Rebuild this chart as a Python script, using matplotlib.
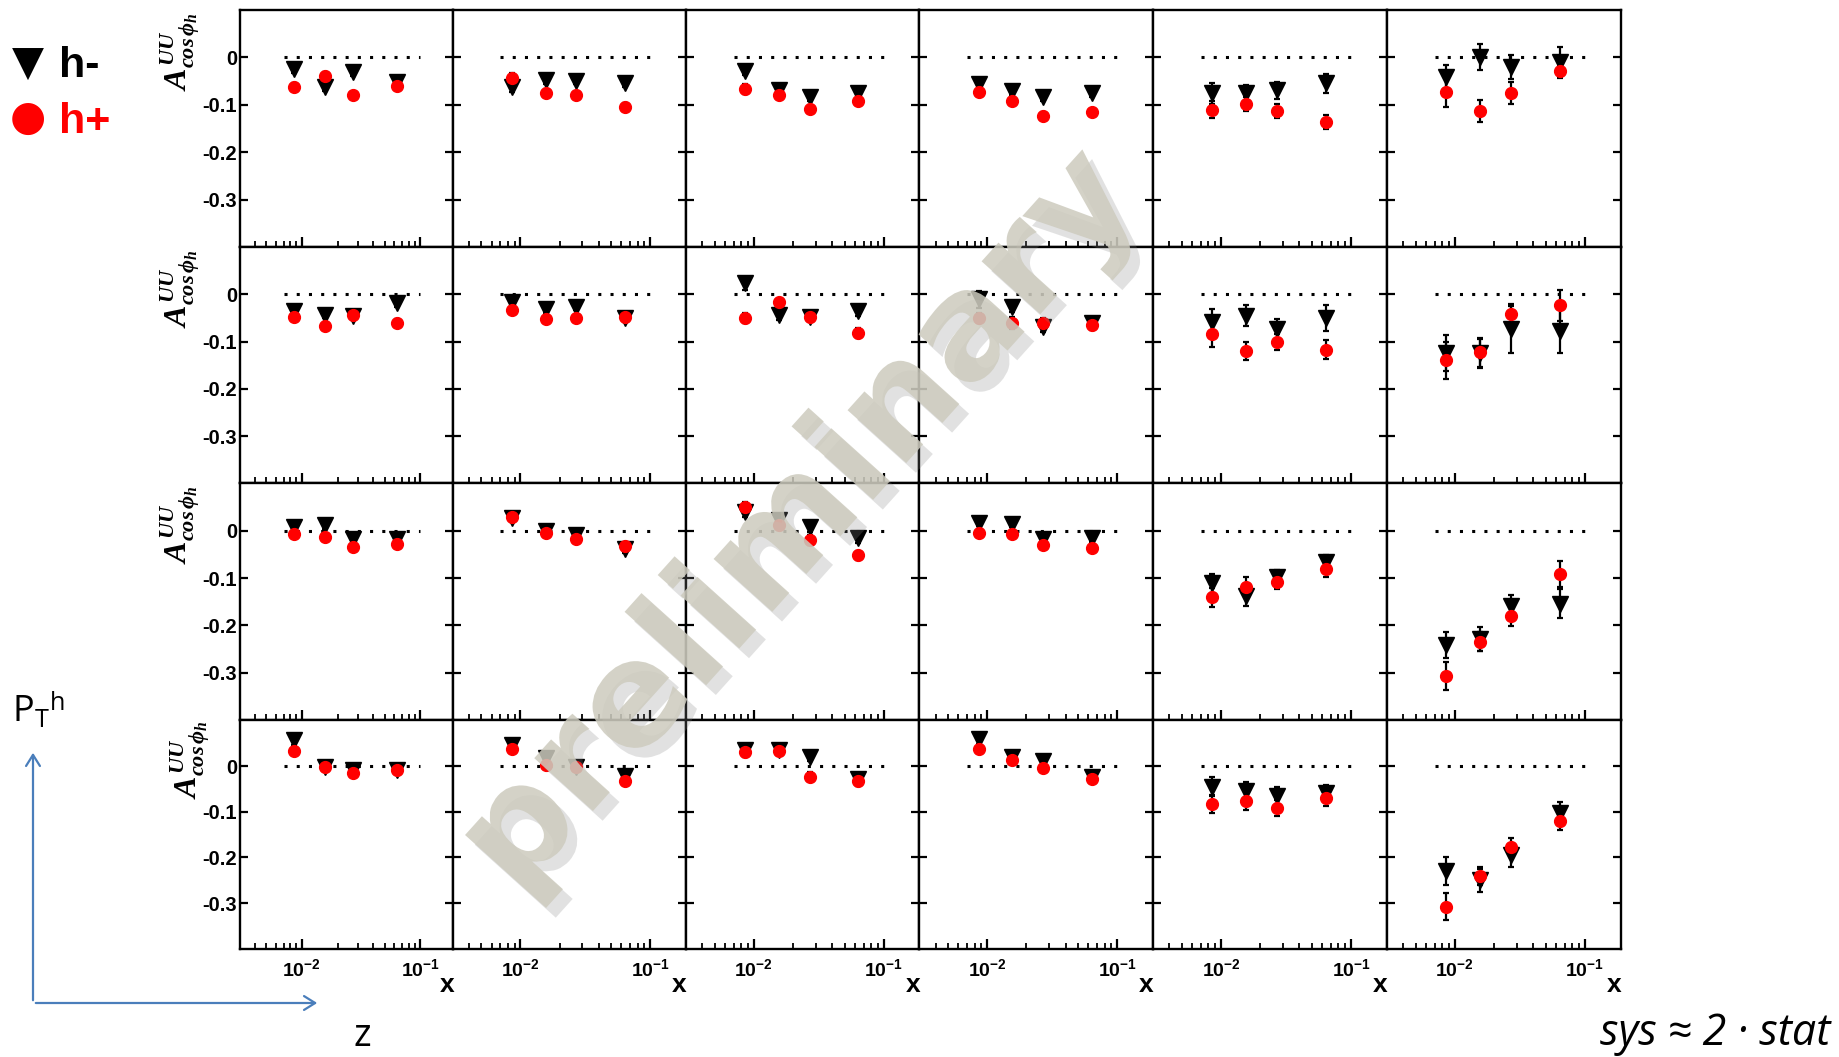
import numpy as np
import matplotlib
matplotlib.use("Agg")
import matplotlib.pyplot as plt
import matplotlib.patheffects as pe
from matplotlib.ticker import LogLocator, FixedLocator, NullFormatter, FixedFormatter

plt.rcParams['mathtext.fontset'] = 'custom'
plt.rcParams['mathtext.rm'] = 'Liberation Sans:bold'
plt.rcParams['mathtext.bf'] = 'Liberation Sans:bold'
plt.rcParams['mathtext.it'] = 'Liberation Serif:bold:italic'
plt.rcParams['font.family'] = ['Liberation Sans', 'DejaVu Sans']

# ---------------- data ----------------
x_bins = [0.0086, 0.0156, 0.027, 0.064]

# rows (top -> bottom), columns (left -> right), 4 x-bins each
hm_row1 = [[-0.024, -0.062, -0.031, -0.051], [-0.062, -0.048, -0.049, -0.055], [-0.028, -0.068, -0.083, -0.075],
           [-0.057, -0.071, -0.083, -0.075], [-0.076, -0.076, -0.069, -0.055], [-0.041, 0.001, -0.020, -0.009]]
hp_row1 = [[-0.063, -0.039, -0.080, -0.061], [-0.043, -0.075, -0.080, -0.104], [-0.067, -0.080, -0.108, -0.093],
           [-0.073, -0.092, -0.123, -0.116], [-0.110, -0.099, -0.113, -0.136], [-0.073, -0.113, -0.075, -0.029]]
hm_row2 = [[-0.035, -0.043, -0.047, -0.018], [-0.017, -0.031, -0.026, -0.050], [0.023, -0.044, -0.048, -0.036],
           [-0.011, -0.026, -0.070, -0.061], [-0.058, -0.045, -0.074, -0.050], [-0.125, -0.125, -0.074, -0.077]]
hp_row2 = [[-0.048, -0.067, -0.043, -0.061], [-0.034, -0.053, -0.051, -0.049], [-0.050, -0.017, -0.049, -0.082],
           [-0.050, -0.061, -0.061, -0.065], [-0.085, -0.120, -0.101, -0.117], [-0.140, -0.123, -0.041, -0.023]]
hm_row3 = [[0.008, 0.011, -0.018, -0.018], [0.027, 0.000, -0.010, -0.039], [0.039, 0.022, 0.008, -0.015],
           [0.017, 0.015, -0.017, -0.015], [-0.111, -0.138, -0.098, -0.066], [-0.241, -0.228, -0.158, -0.154]]
hp_row3 = [[-0.008, -0.014, -0.035, -0.028], [0.029, -0.005, -0.018, -0.033], [0.049, 0.011, -0.020, -0.052],
           [-0.004, -0.006, -0.030, -0.037], [-0.140, -0.118, -0.108, -0.080], [-0.307, -0.234, -0.181, -0.091]]
hm_row4 = [[0.056, -0.003, -0.008, -0.008], [0.045, 0.018, -0.003, -0.022], [0.035, 0.035, 0.020, -0.028],
           [0.058, 0.020, 0.012, -0.025], [-0.045, -0.055, -0.065, -0.060], [-0.230, -0.250, -0.195, -0.103]]
hp_row4 = [[0.033, -0.002, -0.015, -0.008], [0.038, 0.003, -0.003, -0.033], [0.030, 0.033, -0.023, -0.033],
           [0.038, 0.013, -0.005, -0.028], [-0.083, -0.077, -0.092, -0.070], [-0.308, -0.241, -0.177, -0.120]]

hm_err_row1 = [[0.008, 0.008, 0.008, 0.006], [0.010, 0.008, 0.008, 0.008], [0.010, 0.008, 0.008, 0.008],
               [0.006, 0.008, 0.008, 0.008], [0.022, 0.017, 0.018, 0.020], [0.026, 0.027, 0.026, 0.030]]
hp_err_row1 = [[0.008, 0.008, 0.008, 0.007], [0.010, 0.008, 0.008, 0.008], [0.010, 0.008, 0.008, 0.008],
               [0.008, 0.008, 0.008, 0.008], [0.017, 0.015, 0.015, 0.015], [0.032, 0.023, 0.024, 0.014]]
hm_err_row2 = [[0.008, 0.008, 0.008, 0.008], [0.008, 0.008, 0.008, 0.008], [0.014, 0.010, 0.008, 0.010],
               [0.018, 0.012, 0.010, 0.010], [0.027, 0.022, 0.022, 0.027], [0.038, 0.030, 0.050, 0.047]]
hp_err_row2 = [[0.008, 0.008, 0.008, 0.008], [0.008, 0.008, 0.008, 0.008], [0.010, 0.008, 0.008, 0.010],
               [0.010, 0.013, 0.010, 0.010], [0.027, 0.020, 0.017, 0.020], [0.040, 0.030, 0.020, 0.033]]
hm_err_row3 = [[0.008, 0.008, 0.008, 0.008], [0.008, 0.008, 0.008, 0.008], [0.010, 0.010, 0.010, 0.010],
               [0.008, 0.008, 0.008, 0.008], [0.020, 0.020, 0.015, 0.015], [0.027, 0.025, 0.022, 0.030]]
hp_err_row3 = [[0.008, 0.008, 0.008, 0.008], [0.008, 0.008, 0.008, 0.008], [0.012, 0.010, 0.010, 0.010],
               [0.008, 0.008, 0.008, 0.008], [0.020, 0.020, 0.015, 0.017], [0.030, 0.020, 0.021, 0.027]]
hm_err_row4 = [[0.010, 0.008, 0.008, 0.008], [0.010, 0.008, 0.008, 0.008], [0.010, 0.010, 0.010, 0.010],
               [0.010, 0.008, 0.008, 0.008], [0.020, 0.020, 0.018, 0.018], [0.030, 0.025, 0.025, 0.025]]
hp_err_row4 = [[0.010, 0.008, 0.008, 0.008], [0.010, 0.008, 0.008, 0.008], [0.010, 0.010, 0.010, 0.010],
               [0.010, 0.008, 0.008, 0.008], [0.020, 0.020, 0.018, 0.018], [0.030, 0.020, 0.020, 0.020]]

hm_rows = [hm_row1, hm_row2, hm_row3, hm_row4]
hp_rows = [hp_row1, hp_row2, hp_row3, hp_row4]
hm_err_rows = [hm_err_row1, hm_err_row2, hm_err_row3, hm_err_row4]
hp_err_rows = [hp_err_row1, hp_err_row2, hp_err_row3, hp_err_row4]

y_ticks = [0.0, -0.1, -0.2, -0.3]
y_tick_labels = ['0', '-0.1', '-0.2', '-0.3']
x_tick_vals = [0.01, 0.1]
x_tick_labels = [r'$\mathbf{10^{-2}}$', r'$\mathbf{10^{-1}}$']

# ---------------- layout ----------------
W, H = 1839, 1057
fig = plt.figure(figsize=(W / 100, H / 100), dpi=100)
col_edges = [240, 452.7, 685.7, 919.3, 1153, 1386.7, 1620.7]
row_edges = [10, 247, 483.3, 720.3, 948.8]

for r in range(4):
    for c in range(6):
        x0, x1 = col_edges[c], col_edges[c + 1]
        y0, y1 = row_edges[r], row_edges[r + 1]
        ax = fig.add_axes([x0 / W, 1 - y1 / H, (x1 - x0) / W, (y1 - y0) / H])
        ax.set_xscale('log')
        ax.set_xlim(0.003, 0.188)
        ax.set_ylim(-0.4, 0.1)
        for s in ax.spines.values():
            s.set_linewidth(1.7)
        ax.plot([0.007, 0.1], [0, 0], color='black', lw=2.2, ls=(0, (1.0, 3.0)), zorder=1)
        ax.errorbar(x_bins, hm_rows[r][c], yerr=hm_err_rows[r][c], fmt='v', color='black',
                    ms=11.5, elinewidth=1.6, capsize=2.5, capthick=1.6, zorder=3)
        ax.errorbar(x_bins, hp_rows[r][c], yerr=hp_err_rows[r][c], fmt='o', mfc='red', mec='red',
                    ecolor='black', ms=8.5, elinewidth=1.6, capsize=2.5, capthick=1.6, zorder=4)
        ax.yaxis.set_major_locator(FixedLocator(y_ticks))
        ax.tick_params(axis='y', which='both', direction='in', left=True, right=True, length=6, width=1.6)
        ax.xaxis.set_major_locator(FixedLocator(x_tick_vals))
        ax.xaxis.set_minor_locator(LogLocator(base=10, subs=np.arange(2, 10)))
        ax.xaxis.set_minor_formatter(NullFormatter())
        ax.tick_params(axis='x', which='major', direction='in', length=7, width=1.6, top=False)
        ax.tick_params(axis='x', which='minor', direction='in', length=4, width=1.3, top=False)
        if c == 0:
            ax.set_yticklabels(y_tick_labels, fontsize=14.5, fontweight='bold', family='Liberation Sans')
            ax.tick_params(axis='y', pad=2)
        else:
            ax.set_yticklabels([])
        if r == 3:
            ax.xaxis.set_major_formatter(FixedFormatter(x_tick_labels))
            ax.tick_params(axis='x', which='major', labelsize=14, pad=7)
            ax.text(0.972, -0.158, 'x', transform=ax.transAxes, ha='center', va='center',
                    fontsize=19, fontweight='bold')
        else:
            ax.set_xticklabels([])

# y-axis titles
for r in range(4):
    ytop = row_edges[r] + (2 if r < 3 else 0)
    xc = 180 if r < 3 else 190
    fig.text(xc / W, 1 - ytop / H, r'$A^{UU}_{cos\,\phi_h}$', rotation=90, ha='center', va='top',
             fontsize=23)

# legend
fig.text(28 / W, 1 - 64 / H, '\u25BC', fontsize=30, ha='center', va='center', color='black',
         family='DejaVu Sans')
fig.text(59 / W, 1 - 66 / H, 'h-', fontsize=31, fontweight='bold', ha='left', va='center', color='black')
fig.text(28 / W, 1 - 118 / H, '\u25CF', fontsize=30, ha='center', va='center', color='red',
         family='DejaVu Sans')
fig.text(59 / W, 1 - 122 / H, 'h+', fontsize=31, fontweight='bold', ha='left', va='center', color='red')

# arrows and labels
blue = '#4A7EBB'
fig.add_artist(matplotlib.patches.FancyArrowPatch((33 / W, 1 - 1003 / H), (33 / W, 1 - 750 / H),
               transform=fig.transFigure, arrowstyle='->,head_length=8,head_width=5', color=blue, lw=1.6))
fig.add_artist(matplotlib.patches.FancyArrowPatch((33 / W, 1 - 1003 / H), (320 / W, 1 - 1003 / H),
               transform=fig.transFigure, arrowstyle='->,head_length=8,head_width=5', color=blue, lw=1.6))
fig.text(12 / W, 1 - 712 / H, r'P$_\mathregular{T}$$^\mathregular{h}$', fontsize=26, family='Open Sans',
         ha='left', va='center')
fig.text(362 / W, 1 - 1036 / H, 'z', fontsize=27, family='Open Sans', ha='center', va='center')
fig.text(1830 / W, 1 - 1034 / H, 'sys \u2248 2 \u00B7 stat', fontsize=31, family='Open Sans',
         style='italic', ha='right', va='center')

# watermark
wm_color = '#cdcbbe'
fig.text(800 / W, 1 - 522 / H, 'preliminary', fontsize=104, fontweight='bold', rotation=48,
         ha='center', va='center', color=wm_color, alpha=0.85, family='DejaVu Sans',
         path_effects=[pe.SimplePatchShadow(offset=(7, -7), shadow_rgbFace='#8a8a8a', alpha=0.25),
                       pe.Normal()])

fig.savefig('out.png', dpi=100)
